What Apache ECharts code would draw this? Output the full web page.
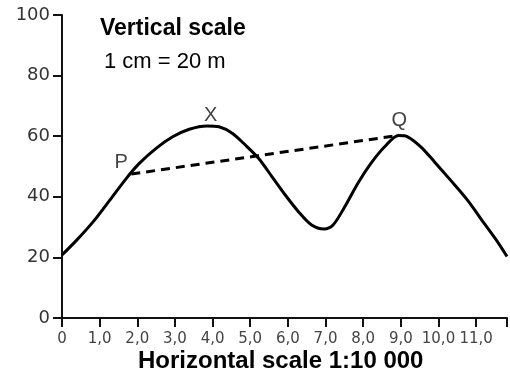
<!DOCTYPE html>
<html><head><meta charset="utf-8">
<script src="https://cdn.jsdelivr.net/npm/echarts@6/dist/echarts.min.js"></script>
<style>html,body{margin:0;padding:0;background:#fff}#c{width:510px;height:385px}</style>
</head><body><div id="c"></div>
<script>
// Profile of the land (horizontal distance in cm, height in m)
const profileX = [0, 0.39, 0.83, 1.27, 1.71, 2.06, 2.50, 2.94, 3.38, 3.85, 4.17, 4.52, 4.87, 5.22, 5.58, 5.93, 6.28, 6.63, 6.96, 7.20, 7.51, 7.86, 8.21, 8.57, 8.94, 9.18, 9.53, 9.89, 10.32, 10.77, 11.21, 11.56, 11.82];
const profileY = [20.8, 25.7, 31.8, 38.9, 46.1, 51.1, 56.0, 59.8, 62.3, 63.4, 63.1, 61.0, 57.1, 52.7, 46.6, 40.6, 35.1, 30.7, 29.4, 30.7, 36.7, 44.5, 51.1, 56.5, 60.2, 59.8, 56.5, 51.6, 45.5, 38.9, 31.3, 25.3, 20.3];
// Dashed sight line from P to Q
const sightX = [1.84, 8.96];
const sightY = [47.5, 60.3];
// Labelled points
const pointNames = ['P', 'X', 'Q'];
const pointX = [1.84, 3.95, 8.96];
const pointY = [48.3, 63.2, 60.4];
const xTicks = ['0','1,0','2,0','3,0','4,0','5,0','6,0','7,0','8,0','9,0','10,0','11,0'];
const yTicks = [0, 20, 40, 60, 80, 100];

const labelOffsets = {P: [-10, -9], X: [0, -11], Q: [0, -15]};
const chart = echarts.init(document.getElementById('c'), null, {renderer: 'canvas'});
const font = '"Liberation Sans", Arial, sans-serif';
const tickFont = '"DejaVu Sans", sans-serif';
chart.setOption({
  animation: false,
  grid: {left: 62, right: 0, top: 15, bottom: 67, containLabel: false},
  xAxis: {
    type: 'value', min: 0, max: 11.82, interval: 1,
    axisLine: {show: true, onZero: false, lineStyle: {color: '#111', width: 2}},
    axisTick: {show: true, length: 9, lineStyle: {color: '#111', width: 2}},
    splitLine: {show: false},
    axisLabel: {margin: 14, fontSize: 15, color: '#444', fontFamily: tickFont,
      formatter: v => { const i = Math.round(v); return Math.abs(v - i) < 1e-6 && xTicks[i] !== undefined ? xTicks[i] : ''; }},
  },
  yAxis: {
    type: 'value', min: yTicks[0], max: yTicks[yTicks.length - 1], interval: 20,
    axisLine: {show: true, lineStyle: {color: '#111', width: 2}},
    axisTick: {show: true, length: 9, lineStyle: {color: '#111', width: 2}},
    splitLine: {show: false},
    axisLabel: {margin: 12, fontSize: 18, color: '#333', fontFamily: tickFont},
  },
  series: [
    {
      type: 'line', data: profileX.map((x, i) => [x, profileY[i]]),
      smooth: 0.3, symbol: 'none', clip: true,
      lineStyle: {color: '#000', width: 3}
    },
    {
      type: 'line', data: sightX.map((x, i) => [x, sightY[i]]),
      symbol: 'none',
      lineStyle: {color: '#000', width: 3, type: [9, 6]}
    },
    {
      type: 'scatter', symbolSize: 0,
      data: pointNames.map((n, i) => ({value: [pointX[i], pointY[i]], name: n,
        label: {offset: labelOffsets[n]}})),
      label: {show: true, formatter: p => p.name, fontSize: 20, color: '#111', fontFamily: font,
        position: 'inside'}
    }
  ],
  graphic: [
    {type: 'text', left: 100, top: 17, style: {text: 'Vertical scale', font: 'bold 23px ' + font, fill: '#000'}},
    {type: 'text', left: 104, top: 51, style: {text: '1 cm = 20 m', font: '22px ' + font, fill: '#000'}},
    {type: 'text', left: 138, top: 349, style: {text: 'Horizontal scale 1:10 000', font: 'bold 24px ' + font, fill: '#000'}}
  ]
});
</script></body></html>
